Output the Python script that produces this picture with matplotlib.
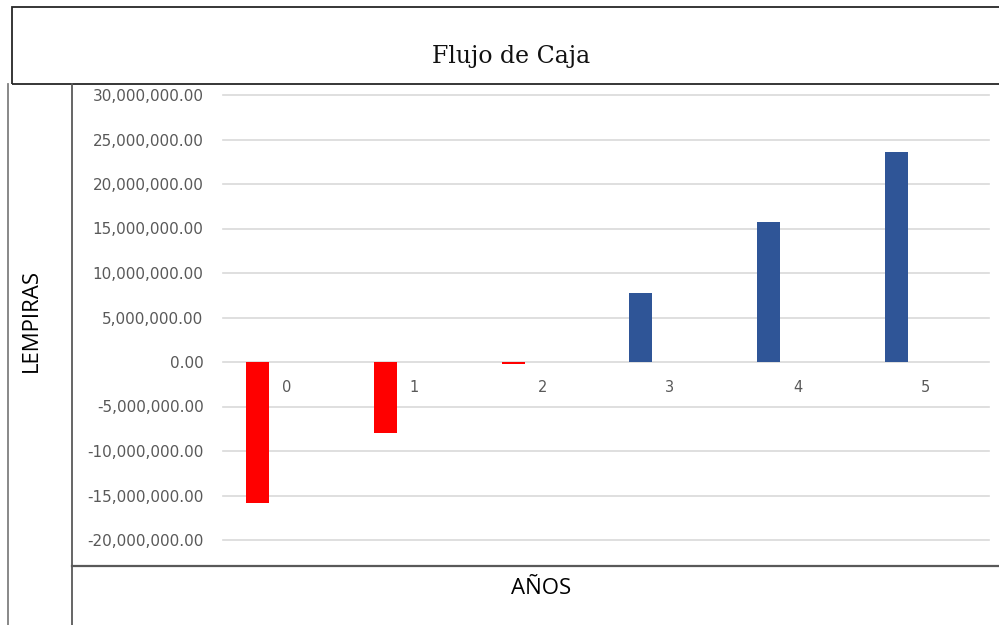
import matplotlib
matplotlib.use("Agg")
from matplotlib import pyplot as plt
from matplotlib.lines import Line2D
from matplotlib.patches import Rectangle
from matplotlib.ticker import FuncFormatter

# data
years = ["0", "1", "2", "3", "4", "5"]
flujo = [-15800000, -8000000, -250000, 7800000, 15700000, 23650000]
y_ticks = [-20000000, -15000000, -10000000, -5000000, 0,
           5000000, 10000000, 15000000, 20000000, 25000000, 30000000]

W, H = 999, 625
RED = "#FF0000"
BLUE = "#2F5597"
GREY_TXT = "#595959"


def fx(px):
    return px / W


def fy(py):
    return 1 - py / H


fig = plt.figure(figsize=(W / 100, H / 100), dpi=100)
fig.patch.set_facecolor("white")

ax = fig.add_axes([fx(223), fy(540), fx(989) - fx(223), fy(95) - fy(540)])
ax.set_facecolor("none")
for s in ax.spines.values():
    s.set_visible(False)

xs = list(range(len(years)))
colors = [RED if v < 0 else BLUE for v in flujo]
ax.bar([x - 0.227 for x in xs], flujo, width=0.18, color=colors, zorder=3)

ax.set_xlim(-0.5, len(years) - 0.5)
ax.set_ylim(y_ticks[0], y_ticks[-1])
ax.set_yticks(y_ticks)
ax.yaxis.set_major_formatter(FuncFormatter(lambda v, p: f"{v:,.2f}"))
ax.tick_params(axis="y", length=0, pad=14, labelsize=11, labelcolor=GREY_TXT)
for lbl in ax.get_yticklabels():
    lbl.set_family("DejaVu Sans")
ax.set_xticks([])
ax.grid(axis="y", color="#D9D9D9", linewidth=1.2, zorder=0)
for gl in ax.get_ygridlines():
    gl.set_clip_on(False)

# category labels sit just below the zero line
for x, lab in zip(xs, years):
    ax.annotate(lab, xy=(x, 0), xytext=(0, -18), textcoords="offset points",
                ha="center", va="center", fontsize=10.5, color=GREY_TXT,
                family="DejaVu Sans")

# title box and the frame lines around the chart
fig.patches.append(Rectangle((fx(11.5), fy(84)), fx(1010) - fx(11.5), fy(7) - fy(84),
                             transform=fig.transFigure, fill=False,
                             edgecolor="#262626", linewidth=1.3))
fig.lines.append(Line2D([fx(8), fx(8)], [fy(84), 0], transform=fig.transFigure,
                        color="#7F7F7F", linewidth=1.3))
fig.lines.append(Line2D([fx(71.5), fx(71.5)], [fy(84), 0], transform=fig.transFigure,
                        color="#595959", linewidth=1.3))
fig.lines.append(Line2D([fx(71.5), 1], [fy(566), fy(566)], transform=fig.transFigure,
                        color="#595959", linewidth=1.6))

fig.text(fx(511), fy(57), "Flujo de Caja", ha="center", va="center",
         fontsize=17, family="DejaVu Serif", color="#111111")
fig.text(fx(31), fy(320), "LEMPIRAS", rotation=90, ha="center", va="center",
         fontsize=16, family="Open Sans", color="black")
fig.text(fx(541), fy(589), "AÑOS", ha="center", va="center",
         fontsize=16, family="Open Sans", color="black")

fig.savefig("out.png", dpi=100)
